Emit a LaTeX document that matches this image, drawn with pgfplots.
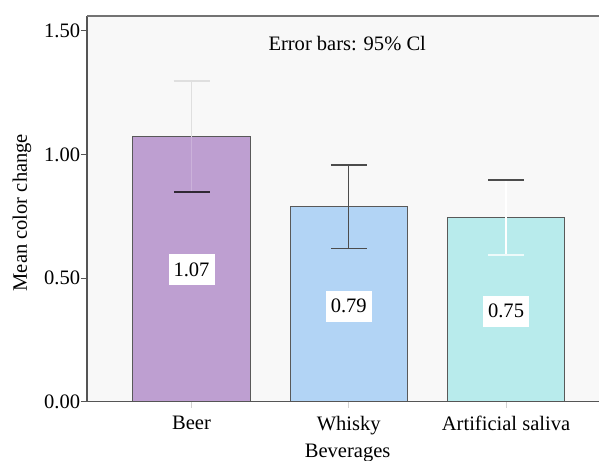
\documentclass[border=0pt]{standalone}
\usepackage{pgfplots}
\pgfplotsset{compat=1.18}
\usepackage{fontspec}
\setmainfont{Liberation Serif}
\definecolor{beer}{HTML}{BE9FD1}
\definecolor{whisky}{HTML}{B2D4F5}
\definecolor{saliva}{HTML}{B8EBEC}
\definecolor{bgc}{HTML}{F8F8F8}
\definecolor{spine}{HTML}{555555}
\begin{document}
\begin{tikzpicture}[font=\fontsize{15.4}{18}\selectfont]
\begin{axis}[
  scale only axis, width=384pt, height=289.5pt,
  xmin=-0.6645, xmax=2.591, ymin=0, ymax=1.561,
  axis line style={draw=none},
  axis background/.style={fill=bgc},
  clip=false,
  tick align=outside, major tick length=4.5pt,
  xtick={0,1,2}, xticklabels={Beer,Whisky,Artificial saliva},
  xtick pos=bottom, ytick pos=left,
  ytick={0,0.5,1,1.5},
  xtick style={draw=gray!35, line width=0.8pt},
  ytick style={draw=spine, line width=0.8pt},
  /pgf/number format/.cd, fixed, fixed zerofill, precision=2, assume math mode=true,
  /pgfplots/.cd,
  yticklabel style={inner sep=0.5pt},
  xticklabel style={inner sep=0pt, anchor=north, yshift=-6pt},
  ylabel={Mean color change},
  ylabel style={at={(axis description cs:-0.127,0.49)}, anchor=center},
  xlabel={Beverages},
  xlabel style={at={(axis description cs:0.509,0)}, yshift=-31.5pt, anchor=north, inner sep=0pt},
]
% bars
\addplot[ybar, bar width=0.745, fill=beer, draw=black!65, line width=0.8pt] coordinates {(0,1.072)};
\addplot[ybar, bar width=0.745, fill=whisky, draw=black!65, line width=0.8pt] coordinates {(1,0.789)};
\addplot[ybar, bar width=0.745, fill=saliva, draw=black!65, line width=0.8pt] coordinates {(2,0.746)};
% error bars: Beer
\addplot[forget plot, draw=none, mark=none, error bars/.cd, y dir=plus, y explicit,
  error bar style={draw=gray!25, line width=0.75pt},
  error mark options={rotate=90, draw=gray!25, mark size=13.5pt, line width=1.3pt}]
  coordinates {(0,1.072) +- (0,0.226)};
\addplot[forget plot, draw=none, mark=none, error bars/.cd, y dir=minus, y explicit,
  error bar style={draw=beer!80!white, line width=0.75pt},
  error mark options={rotate=90, draw=beer!25!black, mark size=13.5pt, line width=1.3pt}]
  coordinates {(0,1.072) +- (0,0.225)};
% Whisky
\addplot[forget plot, draw=none, mark=none, error bars/.cd, y dir=both, y explicit,
  error bar style={draw=black!70, line width=0.75pt},
  error mark options={rotate=90, draw=black!70, mark size=13.5pt, line width=1.3pt}]
  coordinates {(1,0.789) += (0,0.168) -= (0,0.169)};
% Saliva
\addplot[forget plot, draw=none, mark=none, error bars/.cd, y dir=plus, y explicit,
  error bar style={draw=white, line width=0.9pt},
  error mark options={rotate=90, draw=black!70, mark size=13.5pt, line width=1.3pt}]
  coordinates {(2,0.746) +- (0,0.150)};
\addplot[forget plot, draw=none, mark=none, error bars/.cd, y dir=minus, y explicit,
  error bar style={draw=white, line width=0.9pt},
  error mark options={rotate=90, draw=saliva!25!white, mark size=13.5pt, line width=1.3pt}]
  coordinates {(2,0.746) +- (0,0.153)};
% value labels
\addplot[forget plot, only marks, mark=*, mark size=0pt, mark options={draw=none, fill=none},
  nodes near coords, point meta=explicit symbolic,
  every node near coord/.append style={fill=white, minimum width=34.5pt, minimum height=23.25pt, inner sep=0pt, anchor=center}]
  coordinates {(0,0.535)[1.07] (1,0.386)[0.79] (2,0.366)[0.75]};
% spines
\draw[spine, line width=1.1pt] (rel axis cs:0,1) -- (rel axis cs:0,0) -- (rel axis cs:1,0);
\draw[black!55, line width=1.5pt] (rel axis cs:0,1) -- (rel axis cs:1,1);
\node at (axis cs:0.99,1.45) {Error bars: 95\% Cl};
\coordinate (O) at (rel axis cs:0,0);
\coordinate (TR) at (rel axis cs:1,1);
\end{axis}
\pgfresetboundingbox
\useasboundingbox ([shift={(-65.25pt,-43.7pt)}]O) rectangle ([shift={(0pt,11.8pt)}]TR);
\end{tikzpicture}
\end{document}
